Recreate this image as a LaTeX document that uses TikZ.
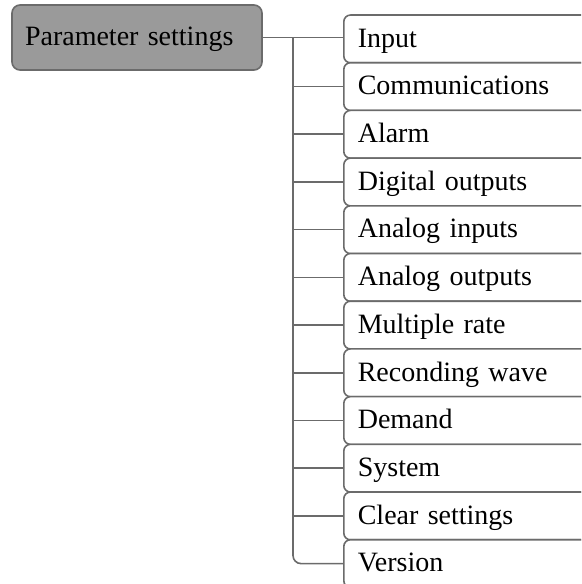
\documentclass[tikz,border=0pt]{standalone}
\usepackage{fontspec}
\setmainfont{Liberation Serif}[WordSpace=0.7]
\definecolor{borde}{HTML}{6B6B6B}
\definecolor{raiz}{HTML}{9A9A9A}
\tikzset{
  rama/.style={line width=1.2pt, borde},
  cajaraiz/.style={draw=borde, line width=1.2pt, fill=raiz, rounded corners=6pt,
    minimum height=48.75pt, text width=168pt, inner xsep=9.75pt, align=left,
    font=\fontsize{21}{25}\selectfont, text height=17pt, text depth=4.6pt},
  cajahija/.style={draw=borde, line width=1.2pt, fill=white, rounded corners=5pt,
    minimum height=35.8pt, text width=180pt, inner xsep=10.5pt, align=left,
    anchor=west, font=\fontsize{21}{25}\selectfont, text height=17pt, text depth=4.6pt}
}
\begin{document}
\begin{tikzpicture}[x=0.75pt, y=-0.75pt]
  % Marco de la figura
  \useasboundingbox (0,0) rectangle (581,584);
  \clip (0,0) rectangle (581,584);
  % Nodo raiz
  \node[cajaraiz] (param) at (137,37.5) {Parameter settings};
  % Opciones del menu
  \node[cajahija] (input) at (343,38.9) {Input};
  \node[cajahija] (comm) at (343,86.6) {Communications};
  \node[cajahija] (alarm) at (343,134.3) {Alarm};
  \node[cajahija] (dout) at (343,182) {Digital outputs};
  \node[cajahija] (ain) at (343,229.7) {Analog inputs};
  \node[cajahija] (aout) at (343,277.4) {Analog outputs};
  \node[cajahija] (rate) at (343,325.1) {Multiple rate};
  \node[cajahija] (wave) at (343,372.8) {Reconding wave};
  \node[cajahija] (demand) at (343,420.5) {Demand};
  \node[cajahija] (system) at (343,468.2) {System};
  \node[cajahija] (clear) at (343,515.9) {Clear settings};
  \node[cajahija] (version) at (343,563.6) {Version};
  % Tronco vertical
  \coordinate (tronco) at (293,37.5);
  \draw[rama] (param.east) -- (param.east -| input.west);
  \draw[rama, rounded corners=6pt] (tronco) |- (version.west);
  % Ramas horizontales
  \draw[rama] (tronco |- comm.west) -- (comm.west);
  \draw[rama] (tronco |- alarm.west) -- (alarm.west);
  \draw[rama] (tronco |- dout.west) -- (dout.west);
  \draw[rama] (tronco |- ain.west) -- (ain.west);
  \draw[rama] (tronco |- aout.west) -- (aout.west);
  \draw[rama] (tronco |- rate.west) -- (rate.west);
  \draw[rama] (tronco |- wave.west) -- (wave.west);
  \draw[rama] (tronco |- demand.west) -- (demand.west);
  \draw[rama] (tronco |- system.west) -- (system.west);
  \draw[rama] (tronco |- clear.west) -- (clear.west);
\end{tikzpicture}
\end{document}
